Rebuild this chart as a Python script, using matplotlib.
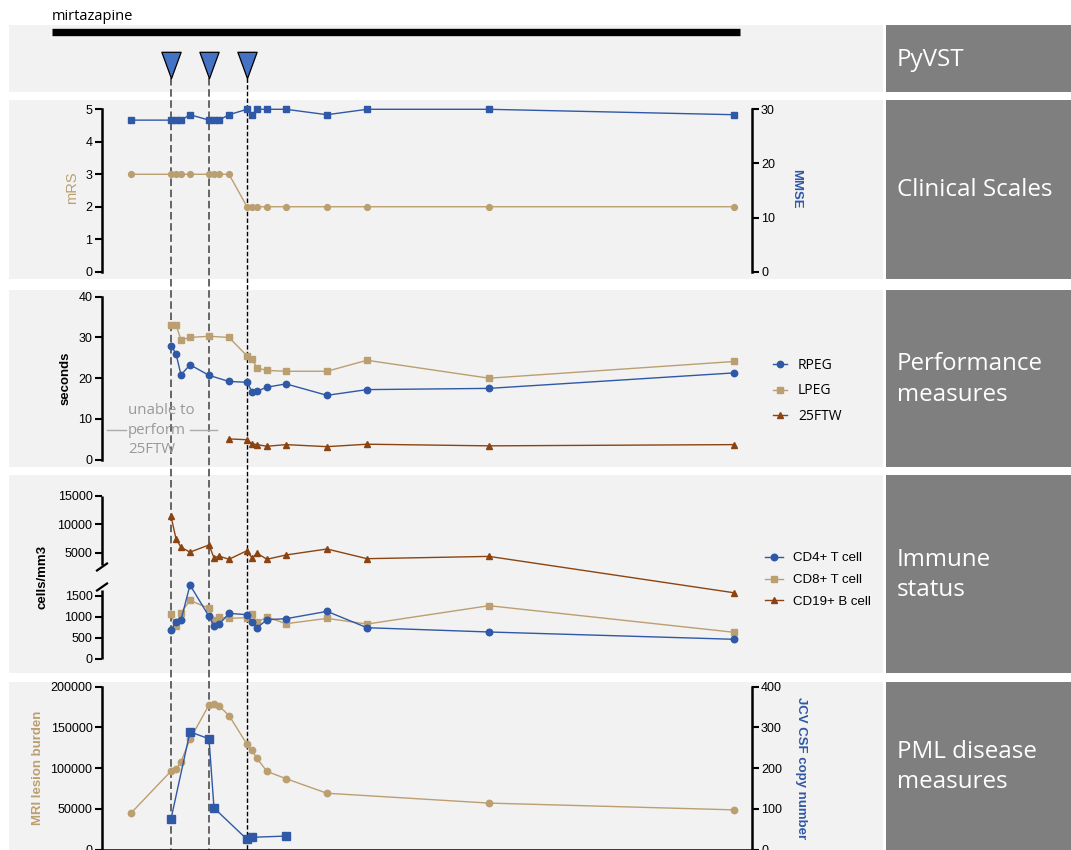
import numpy as np
import matplotlib
matplotlib.use("Agg")
import matplotlib.pyplot as plt
from matplotlib.lines import Line2D
from matplotlib.patches import Rectangle
from matplotlib.path import Path
import matplotlib.transforms as mtransforms

plt.rcParams['font.family'] = ['Liberation Sans', 'DejaVu Sans']

# ---------------- data ----------------
days = [0, 40, 45, 50, 59, 78, 83, 88, 98, 116, 121, 126, 136, 155, 196, 236, 358, 603]
infusion_days = [40, 78, 116]
mirtazapine_start, mirtazapine_end = -79, 609

mrs = [3, 3, 3, 3, 3, 3, 3, 3, 3, 2, 2, 2, 2, 2, 2, 2, 2, 2]
mmse = [28, 28, 28, 28, 29, 28, 28, 28, 29, 30, 29, 30, 30, 30, 29, 30, 30, 29]

rpeg = [None, 28.0, 26.0, 20.8, 23.3, 20.7, None, None, 19.2, 19.0, 16.7, 16.8, 17.8, 18.6, 15.8, 17.2, 17.5, 21.3]
lpeg = [None, 33.0, 33.1, 29.4, 30.0, 30.3, None, None, 30.0, 25.5, 24.7, 22.5, 21.9, 21.7, 21.7, 24.4, 20.0, 24.1]
ftw25 = [None, None, None, None, None, None, None, None, 5.1, 4.9, 3.9, 3.7, 3.3, 3.7, 3.2, 3.8, 3.4, 3.7]

cd4 = [None, 690, 873, 920, 1754, 1008, 786, 817, 1079, 1048, 873, 738, 929, 952, 1127, 738, 636, 462]
cd8 = [None, 1056, 770, 1095, 1389, 1198, 929, 992, 960, 976, 1063, 865, 992, 833, 960, 825, 1262, 629]
cd19 = [None, 11400, 7450, 5950, 5100, 6350, 4100, 4400, 3850, 5350, 4050, 4900, 3850, 4600, 5650, 3950, 4350, 1570]

mri = [44700, 96300, 98400, 108100, 135400, 177600, 178900, 176400, 164600, 129300, 122000,
       111800, 95900, 87000, 69100, None, 57000, 48700]
jcv = [None, 75, None, None, 289, 272, 102, None, None, 25, 30, None, None, 33, None, None, None, None]

panel_names = ["PyVST", "Clinical Scales", "Performance\nmeasures", "Immune\nstatus", "PML disease\nmeasures"]

# ---------------- style ----------------
BLUE = '#2f58a6'
TAN = '#bb9f70'
BROWN = '#8b4411'
BG = '#f2f2f2'
BOX = '#7f7f7f'
TICK_FS = 9.0

W, H = 1071, 850
fig = plt.figure(figsize=(W / 100, H / 100), dpi=100)


def frect(x0, y0, x1, y1):
    return [x0 / W, 1 - y1 / H, (x1 - x0) / W, (y1 - y0) / H]


def fx(x):
    return x / W


def fy(y):
    return 1 - y / H


def pts(xs, ys):
    pairs = [(x, y) for x, y in zip(xs, ys) if y is not None]
    return [p[0] for p in pairs], [p[1] for p in pairs]


P0 = 131  # pixel column of day 0
AX_L, AX_R = 101.5, 752

# backgrounds and label boxes
panels_y = [(25, 92), (100, 279), (290, 467), (475, 673), (682, 850)]
for (y0, y1), name in zip(panels_y, panel_names):
    fig.add_artist(Rectangle((fx(9), fy(y1)), fx(883) - fx(9), fy(y0) - fy(y1),
                             transform=fig.transFigure, facecolor=BG, edgecolor='none', zorder=-3))
    fig.add_artist(Rectangle((fx(886), fy(y1)), 1 - fx(886), fy(y0) - fy(y1),
                             transform=fig.transFigure, facecolor=BOX, edgecolor='none', zorder=-3))
    fig.text(fx(897), fy((y0 + y1) / 2 + 1), name, color='white', ha='left', va='center',
             fontsize=17.4, family='Open Sans', linespacing=1.35)


def style_left(ax):
    ax.set_facecolor('none')
    for s in ['top', 'right', 'bottom']:
        ax.spines[s].set_visible(False)
    ax.spines['left'].set_linewidth(1.8)
    ax.tick_params(axis='y', direction='out', length=5, width=1.5, labelsize=TICK_FS, pad=1.5)
    ax.set_xticks([])
    ax.set_xlim(AX_L - P0, AX_R - P0)


def style_right(ax):
    ax.set_facecolor('none')
    for s in ['top', 'left', 'bottom']:
        ax.spines[s].set_visible(False)
    ax.spines['right'].set_linewidth(1.8)
    ax.tick_params(axis='y', direction='out', length=5, width=1.5, labelsize=TICK_FS, pad=1.5)
    ax.set_xticks([])
    ax.set_xlim(AX_L - P0, AX_R - P0)


# ---------------- PyVST panel ----------------
ax_py = fig.add_axes(frect(9, 25, 883, 92))
ax_py.set_xlim(9 - P0, 883 - P0)
ax_py.set_ylim(92, 25)
ax_py.axis('off')
ax_py.plot([mirtazapine_start, mirtazapine_end], [32, 32], color='black', lw=5.3,
           solid_capstyle='butt')
tri = Path([(-0.365, 0.5), (0.365, 0.5), (0.0, -0.5), (-0.365, 0.5)],
           [Path.MOVETO, Path.LINETO, Path.LINETO, Path.CLOSEPOLY])
ax_py.plot(infusion_days, [65] * len(infusion_days), linestyle='none', marker=tri,
           markersize=19, markerfacecolor='#4472c4', markeredgecolor='black', markeredgewidth=0.9,
           zorder=5)
fig.text(fx(52), fy(17), 'mirtazapine', ha='left', va='center', fontsize=10.5, family='Open Sans')

# ---------------- Clinical scales ----------------
ax_c = fig.add_axes(frect(AX_L, 109.3, AX_R, 271.7))
style_left(ax_c)
ax_c.set_ylim(0, 5)
ax_c.set_yticks([0, 1, 2, 3, 4, 5])
x, y = pts(days, mrs)
ax_c.plot(x, y, color=TAN, lw=1.0, marker='o', ms=4.2, clip_on=False)
ax_c2 = ax_c.twinx()
style_right(ax_c2)
ax_c2.set_ylim(0, 30)
ax_c2.set_yticks([0, 10, 20, 30])
x, y = pts(days, mmse)
ax_c2.plot(x, y, color=BLUE, lw=1.0, marker='s', ms=4.8, clip_on=False)

# ---------------- Performance ----------------
ax_p = fig.add_axes(frect(AX_L, 296.7, AX_R, 459.7))
style_left(ax_p)
ax_p.set_ylim(0, 40)
ax_p.set_yticks([0, 10, 20, 30, 40])
x, y = pts(days, lpeg)
h_l, = ax_p.plot(x, y, color=TAN, lw=1.0, marker='s', ms=5.0, clip_on=False, label='LPEG')
x, y = pts(days, rpeg)
h_r, = ax_p.plot(x, y, color=BLUE, lw=1.0, marker='o', ms=4.6, clip_on=False, label='RPEG')
x, y = pts(days, ftw25)
h_f, = ax_p.plot(x, y, color=BROWN, lw=1.0, marker='^', ms=4.5, clip_on=False, label='25FTW')
ax_p.legend([h_r, h_l, h_f], ['RPEG', 'LPEG', '25FTW'], loc='center left',
            bbox_to_anchor=(fx(773), fy(391)), bbox_transform=fig.transFigure, frameon=False,
            prop={'family': 'Open Sans', 'size': 10}, handlelength=1.0, handletextpad=0.8,
            labelspacing=0.75, borderaxespad=0, borderpad=0)
fig.text(fx(128), fy(430), 'unable to\nperform\n25FTW', color='#999999', ha='left', va='center',
         fontsize=10.8, family='Open Sans', linespacing=1.4)
for xa, xb in [(107, 126), (190, 217)]:
    fig.add_artist(Line2D([fx(xa), fx(xb)], [fy(430), fy(430)], transform=fig.transFigure,
                          color='#aaaaaa', lw=1.0))

# ---------------- Immune status (broken axis) ----------------
V = [0, 1800, 2850, 15000]
U = [0, 75.6, 93.75, 163]


def fwd(v):
    return np.interp(v, V, U)


def inv(u):
    return np.interp(u, U, V)


ax_i = fig.add_axes(frect(AX_L, 495.7, AX_R, 658.7))
style_left(ax_i)
ax_i.set_yscale('function', functions=(fwd, inv))
ax_i.set_ylim(0, 15000)
ax_i.set_yticks([0, 500, 1000, 1500, 5000, 10000, 15000])
ax_i.set_yticklabels(['0', '500', '1000', '1500', '5000', '10000', '15000'])
ax_i.spines['left'].set_visible(False)
blend = mtransforms.blended_transform_factory(ax_i.transAxes, ax_i.transData)
for lo, hi in [(0, 1640), (2850, 15000)]:
    ax_i.plot([0, 0], [lo, hi], transform=blend, color='black', lw=1.8, clip_on=False,
              solid_capstyle='butt')
for yc in [567, 587]:
    fig.add_artist(Line2D([fx(97), fx(107)], [fy(yc + 3.5), fy(yc - 3.5)],
                          transform=fig.transFigure, color='black', lw=1.6))
x, y = pts(days, cd19)
h19, = ax_i.plot(x, y, color=BROWN, lw=1.0, marker='^', ms=4.6, clip_on=False)
x, y = pts(days, cd8)
h8, = ax_i.plot(x, y, color=TAN, lw=1.0, marker='s', ms=5.0, clip_on=False)
x, y = pts(days, cd4)
h4, = ax_i.plot(x, y, color=BLUE, lw=1.0, marker='o', ms=4.7, clip_on=False)
ax_i.legend([h4, h8, h19], ['CD4+ T cell', 'CD8+ T cell', 'CD19+ B cell'], loc='center left',
            bbox_to_anchor=(fx(765), fy(580)), bbox_transform=fig.transFigure, frameon=False,
            prop={'family': 'Liberation Sans', 'size': 9.5}, handlelength=1.4, handletextpad=0.75,
            labelspacing=0.72, borderaxespad=0, borderpad=0)

# ---------------- PML disease measures ----------------
ax_m = fig.add_axes(frect(AX_L, 686.7, AX_R, 849.5))
style_left(ax_m)
ax_m.spines['bottom'].set_visible(True)
ax_m.spines['bottom'].set_linewidth(1.8)
ax_m.set_ylim(0, 200000)
ax_m.set_yticks([0, 50000, 100000, 150000, 200000])
x, y = pts(days, mri)
ax_m.plot(x, y, color=TAN, lw=1.0, marker='o', ms=4.6, clip_on=False)
ax_m2 = ax_m.twinx()
style_right(ax_m2)
ax_m2.set_ylim(0, 400)
ax_m2.set_yticks([0, 100, 200, 300, 400])
x, y = pts(days, jcv)
ax_m2.plot(x, y, color=BLUE, lw=1.0, marker='s', ms=5.3, clip_on=False)

# ---------------- axis labels ----------------
fig.text(fx(72), fy(188), 'mRS', rotation=90, color=TAN, ha='center', va='center', fontsize=10.5)
fig.text(fx(796), fy(189), 'MMSE', rotation=270, color=BLUE, ha='center', va='center',
         fontsize=9.5, fontweight='bold')
fig.text(fx(66), fy(378), 'seconds', rotation=90, color='black', ha='center', va='center',
         fontsize=9.5, fontweight='bold')
fig.text(fx(42), fy(577), 'cells/mm3', rotation=90, color='black', ha='center', va='center',
         fontsize=9.5, fontweight='bold')
fig.text(fx(38), fy(768), 'MRI lesion burden', rotation=90, color=TAN, ha='center', va='center',
         fontsize=9.5, fontweight='bold')
fig.text(fx(801), fy(768), 'JCV CSF copy number', rotation=270, color=BLUE, ha='center',
         va='center', fontsize=9.5, fontweight='bold')

# ---------------- infusion dashed lines ----------------
dblend = mtransforms.blended_transform_factory(ax_c.transData, fig.transFigure)
for i, d in enumerate(infusion_days):
    if i < 2:
        ln = Line2D([d, d], [fy(78), 0], transform=dblend, color='#4d4d4d', lw=1.2,
                    dashes=(4.5, 2.2), zorder=-1)
    else:
        ln = Line2D([d, d], [fy(78), 0], transform=dblend, color='black', lw=1.0,
                    dashes=(3.2, 1.6), zorder=-1)
    fig.add_artist(ln)

fig.savefig('out.png', dpi=100)
